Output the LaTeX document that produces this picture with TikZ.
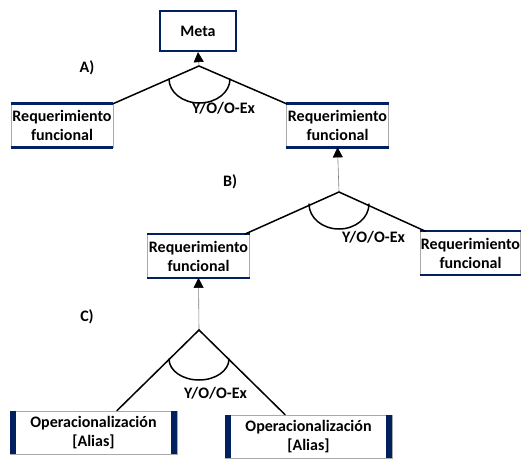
\documentclass[tikz,border=0pt]{standalone}
\usepackage{fontspec}
\setmainfont{Carlito}
\usetikzlibrary{arrows.meta,calc}
\definecolor{navy}{RGB}{0,32,96}
\definecolor{edgegray}{RGB}{170,170,170}
\tikzset{
  txt/.style={font=\fontsize{16}{19}\selectfont\bfseries, align=center, inner sep=0pt},
  box/.style={txt, fill=white, draw=edgegray, line width=0.8pt},
  metabox/.style={txt, draw=navy, line width=2.2pt, minimum width=76pt, minimum height=40pt},
  reqbox/.style={box, minimum width=102pt, minimum height=43pt},
  opbox/.style={box, minimum width=167pt, minimum height=43pt},
  branch/.style={line width=1.5pt, line cap=round},
  uparrow/.style={draw=gray, line width=0.6pt, -{Triangle[length=10pt,width=10pt,color=black]}},
  hbar/.style={navy, line width=2.6pt},
  vbar/.style={navy, line width=6pt},
  lbl/.style={txt},
}
\begin{document}
\begin{tikzpicture}[x=1pt,y=-1pt]
\useasboundingbox (0,0) rectangle (522,460);
% nodes
\node[metabox] (meta) at (198,31) {Meta};
\node[reqbox] (r1) at (62,125.5) {Requerimiento\\funcional};
\node[reqbox] (r2) at (337.5,125.5) {Requerimiento\\funcional};
\node[reqbox] (r3) at (198.5,256) {Requerimiento\\funcional};
\node[reqbox, minimum width=100pt] (r4) at (470.5,253) {Requerimiento\\funcional};
\node[opbox] (o1) at (93.5,432.5) {Operacionalización\\{[Alias]}};
\node[opbox] (o2) at (308.5,436.5) {Operacionalización\\{[Alias]}};
% borders
\foreach \n in {r1,r2,r3,r4}{
  \draw[hbar] (\n.north west) -- (\n.north east);
  \draw[hbar] (\n.south west) -- (\n.south east);
}
\foreach \n in {o1,o2}{
  \draw[vbar] ([xshift=3pt]\n.north west) -- ([xshift=3pt]\n.south west);
  \draw[vbar] ([xshift=-3pt]\n.north east) -- ([xshift=-3pt]\n.south east);
}
% apexes
\coordinate (a) at (199,66);
\coordinate (b) at (339,192);
\coordinate (c) at (199,330);
% A
\draw[uparrow] (a) -- (meta.south);
\draw[branch] (r1.north east) -- (a) -- (r2.north west);
\draw[branch] (169,79) arc[start angle=180,end angle=360,x radius=30.5pt,y radius=24pt];
\node[lbl, anchor=west] (ya) at (192,108) {Y/O/O-Ex};
\node[lbl] (la) at (87,68) {A)};
% B
\draw[uparrow] (b) -- (r2.south);
\draw[branch] ([xshift=-5pt]r3.north east) -- (b) -- ([xshift=5pt]r4.north west);
\draw[branch] (309,204) arc[start angle=180,end angle=360,x radius=30pt,y radius=25pt];
\node[lbl, anchor=west] (yb) at (342,237) {Y/O/O-Ex};
\node[lbl] (lb) at (230,182) {B)};
% C
\draw[uparrow] (c) -- (r3.south);
\draw[branch] ([xshift=23.5pt]o1.north) -- (c) -- ([xshift=-23.5pt]o2.north);
\draw[branch] (169,359) arc[start angle=180,end angle=360,x radius=30pt,y radius=21pt];
\node[lbl, anchor=west] (yc) at (184,393) {Y/O/O-Ex};
\node[lbl] (lc) at (87,317) {C)};
\end{tikzpicture}
\end{document}
